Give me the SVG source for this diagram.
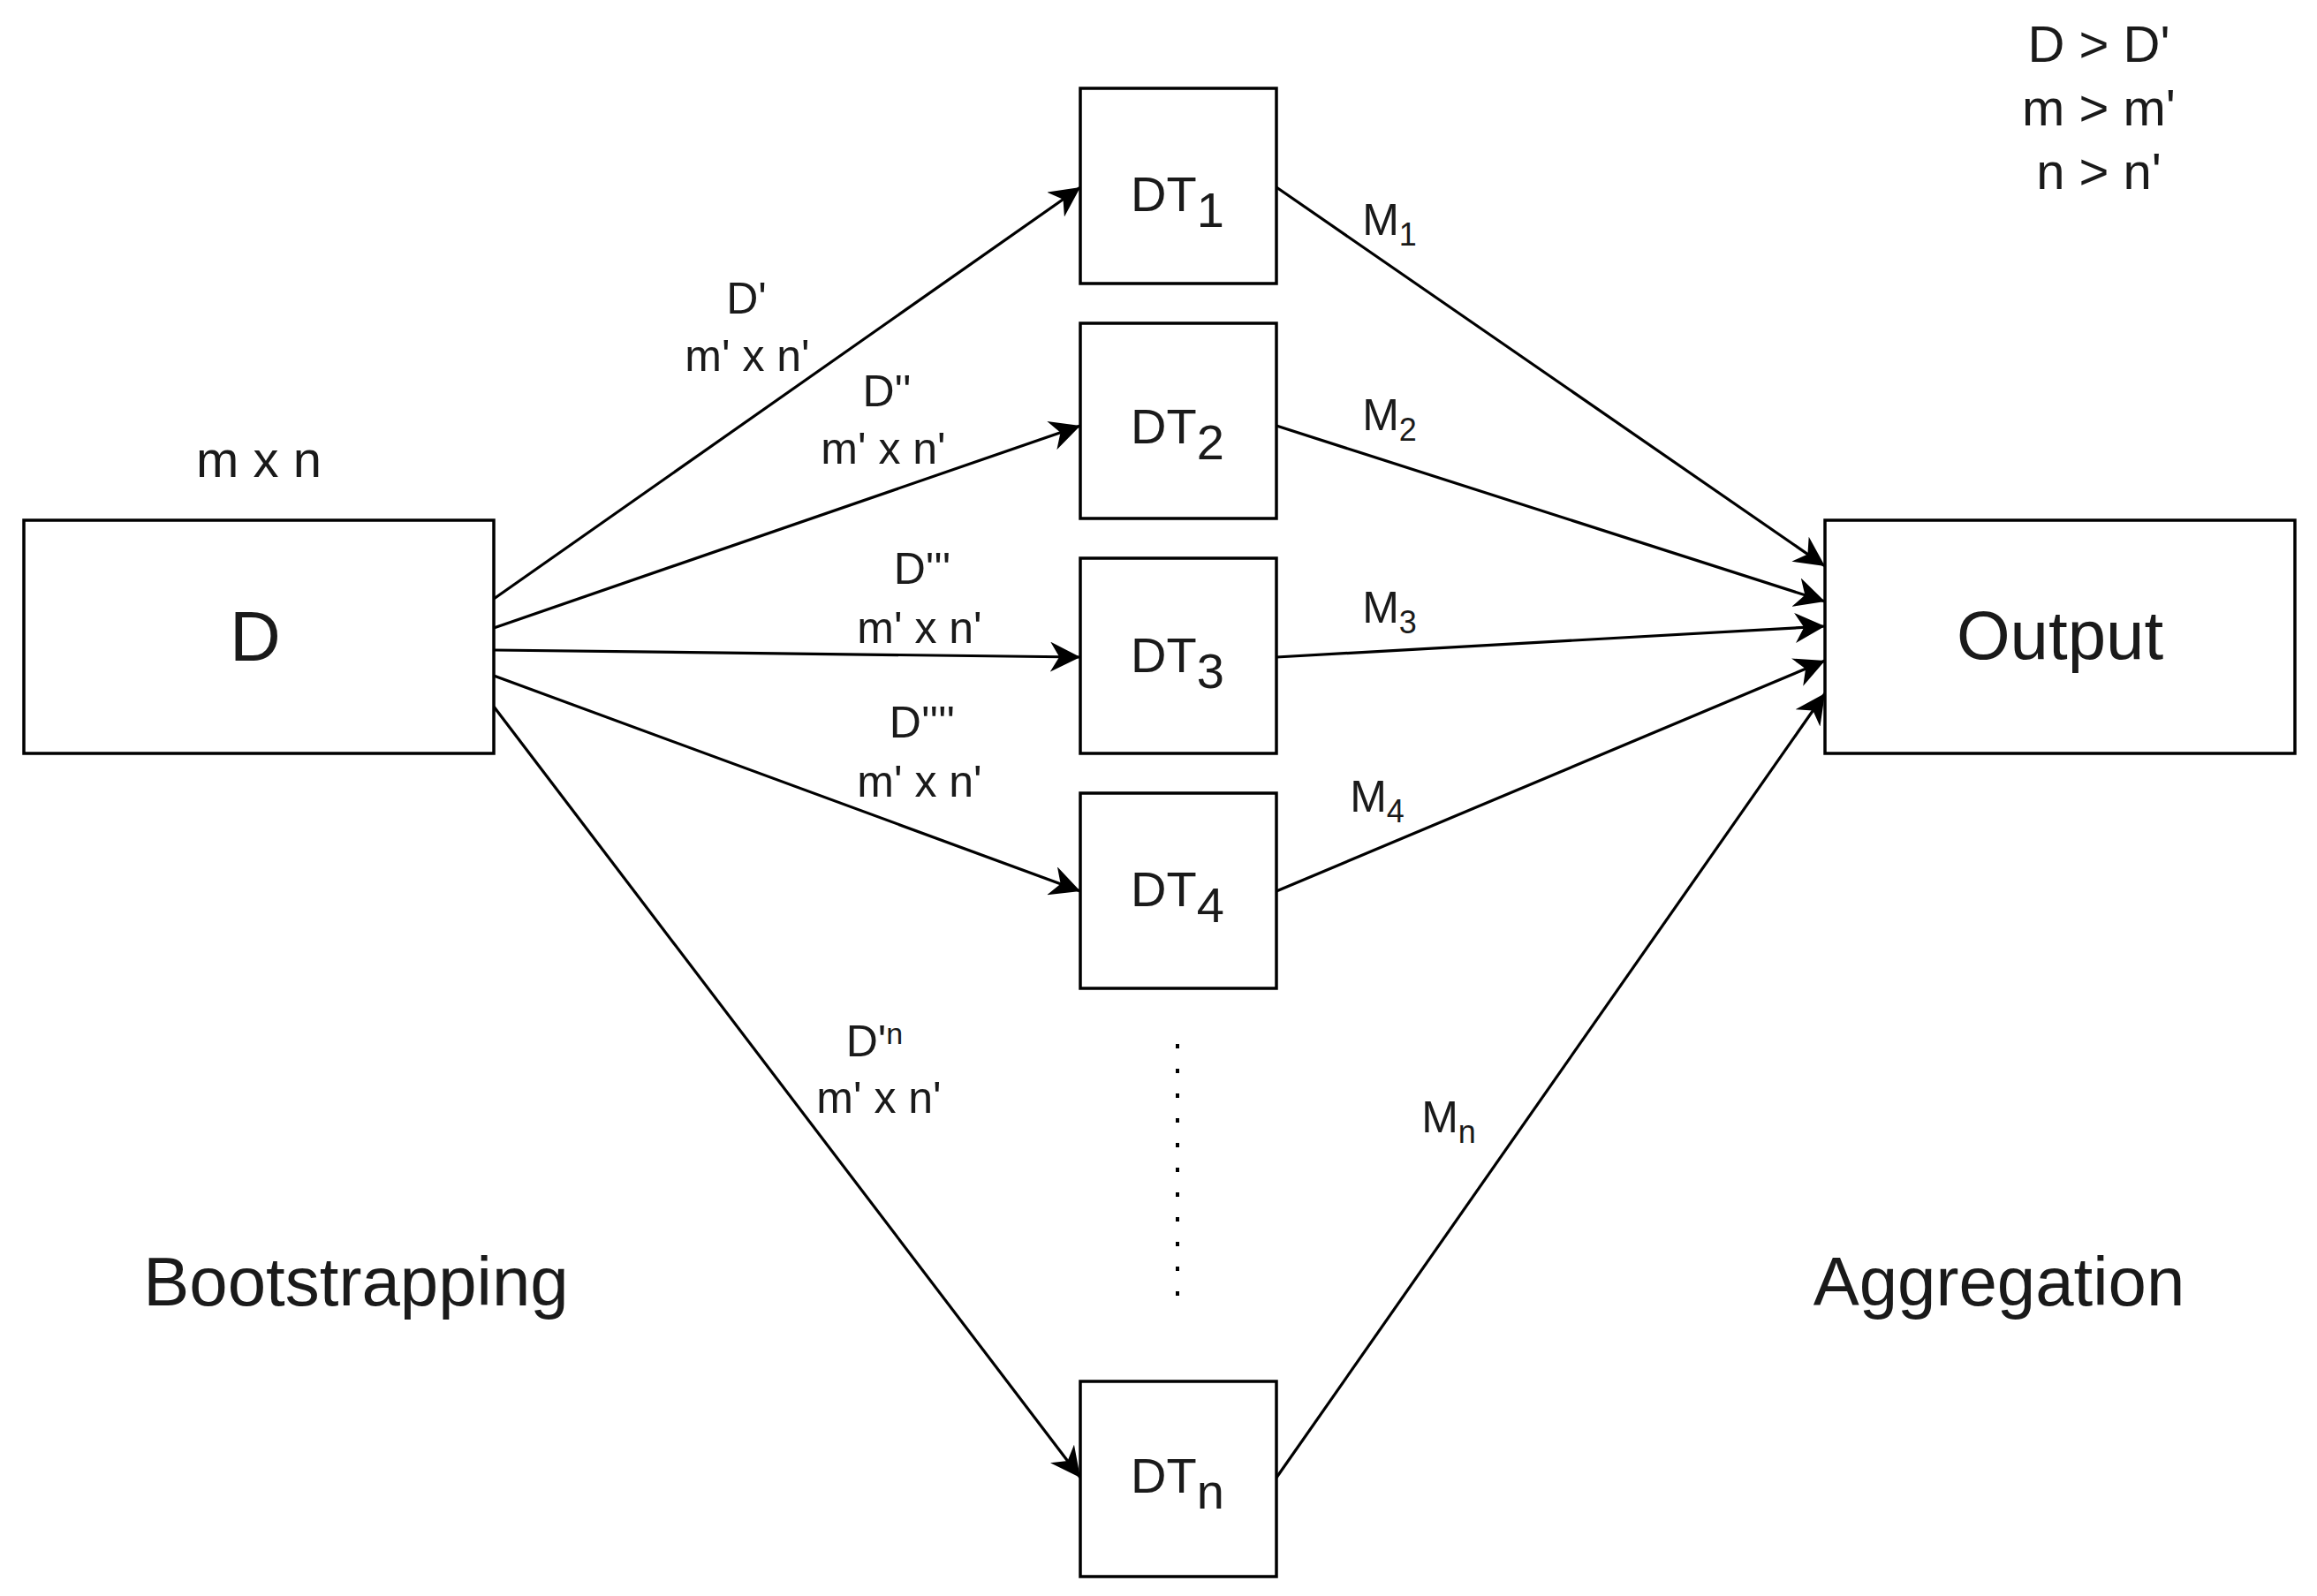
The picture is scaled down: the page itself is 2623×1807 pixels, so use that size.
<svg xmlns="http://www.w3.org/2000/svg" width="2623" height="1807" viewBox="0 0 2623 1807">
<style>
.box{fill:#fff;stroke:#000;stroke-width:3.5}
.e{stroke:#000;stroke-width:3.2;fill:none;marker-end:url(#ah)}
text{font-family:"Liberation Sans",Arial,sans-serif;fill:#1a1a1a;text-anchor:middle}
.big{font-size:80px}
.dt{font-size:56px}
.sm{font-size:50px}
.md{font-size:58px}
.lg{font-size:78px}
</style>
<defs><marker id="ah" viewBox="0 0 10 10" refX="10" refY="5" markerWidth="34" markerHeight="34" orient="auto" markerUnits="userSpaceOnUse"><path d="M0,0 L10,5 L0,10 L3,5 Z" fill="#000"/></marker></defs>
<rect width="2623" height="1807" fill="#fff"/>
<g id="connectors">
<path class="e" d="M559,678 L1223,212"/>
<path class="e" d="M559,711 L1223,482"/>
<path class="e" d="M559,736 L1223,744"/>
<path class="e" d="M559,765 L1223,1009"/>
<path class="e" d="M559,800 L1223,1673"/>
<path class="e" d="M1445,212 L2066,641"/>
<path class="e" d="M1445,482 L2066,681"/>
<path class="e" d="M1445,744 L2066,709"/>
<path class="e" d="M1445,1009 L2066,748"/>
<path class="e" d="M1445,1673 L2066,785"/>
<path d="M1333,1182 L1333,1475" stroke="#000" stroke-width="4" stroke-dasharray="5,23"/>
</g>
<g id="D"><rect class="box" x="27" y="589" width="532" height="264"/><text class="big" x="289" y="748">D</text></g>
<g id="DT1"><rect class="box" x="1223" y="100" width="222" height="221"/><text class="dt" x="1333" y="239">DT<tspan dy="18">1</tspan></text></g>
<g id="DT2"><rect class="box" x="1223" y="366" width="222" height="221"/><text class="dt" x="1333" y="502">DT<tspan dy="18">2</tspan></text></g>
<g id="DT3"><rect class="box" x="1223" y="632" width="222" height="221"/><text class="dt" x="1333" y="761">DT<tspan dy="18">3</tspan></text></g>
<g id="DT4"><rect class="box" x="1223" y="898" width="222" height="221"/><text class="dt" x="1333" y="1026">DT<tspan dy="18">4</tspan></text></g>
<g id="DTn"><rect class="box" x="1223" y="1564" width="222" height="221"/><text class="dt" x="1333" y="1690">DT<tspan dy="18">n</tspan></text></g>
<g id="Output"><rect class="box" x="2066" y="589" width="532" height="264"/><text class="lg" x="2332" y="746">Output</text></g>
<g id="labels">
<text class="md" x="293" y="540">m x n</text>
<text class="sm" x="845" y="355">D'</text><text class="sm" x="846" y="420">m' x n'</text>
<text class="sm" x="1004" y="460">D''</text><text class="sm" x="1000" y="525">m' x n'</text>
<text class="sm" x="1044" y="661">D'''</text><text class="sm" x="1041" y="728">m' x n'</text>
<text class="sm" x="1044" y="835">D''''</text><text class="sm" x="1041" y="902">m' x n'</text>
<text class="sm" x="990" y="1196">D'<tspan dy="-14" font-size="34">n</tspan></text><text class="sm" x="995" y="1260">m' x n'</text>
<text class="sm" x="1573" y="266">M<tspan dy="12" font-size="36">1</tspan></text>
<text class="sm" x="1573" y="487">M<tspan dy="12" font-size="36">2</tspan></text>
<text class="sm" x="1573" y="705">M<tspan dy="12" font-size="36">3</tspan></text>
<text class="sm" x="1559" y="919">M<tspan dy="12" font-size="36">4</tspan></text>
<text class="sm" x="1640" y="1282">M<tspan dy="12" font-size="36">n</tspan></text>
<text class="md" x="2376" y="70">D &gt; D'</text>
<text class="md" x="2376" y="142">m &gt; m'</text>
<text class="md" x="2376" y="214">n &gt; n'</text>
<text class="lg" x="403" y="1478">Bootstrapping</text>
<text class="lg" x="2263" y="1478">Aggregation</text>
</g>
</svg>
